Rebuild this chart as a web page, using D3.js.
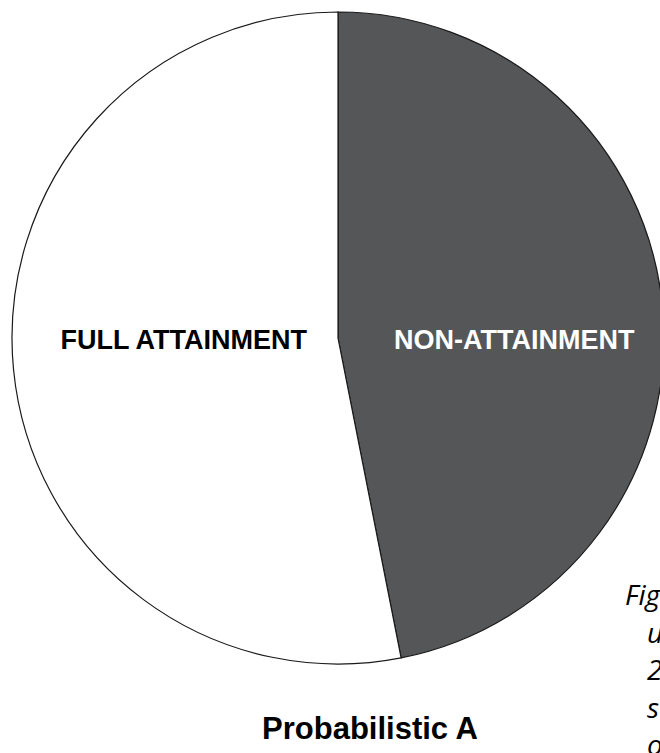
<!DOCTYPE html>
<html>
<head>
<meta charset="utf-8">
<script src="https://cdn.jsdelivr.net/npm/d3@7"></script>
<style>
  html, body { margin: 0; padding: 0; background: #fff; overflow: hidden; }
</style>
</head>
<body>
<svg id="chart"></svg>
<script>
const WIDTH = 660;
const HEIGHT = 753;
const CX = 338;
const CY = 338;
const RADIUS = 326;
const LABEL_R = 166;
const LABEL_SHIFT = 11;

const categories = ["NON-ATTAINMENT", "FULL ATTAINMENT"];
const shares = [46.9, 53.1];
const sliceColors = ["#555658", "#ffffff"];
const labelColors = ["#ffffff", "#000000"];
const title = "Probabilistic A";
const captionLines = ["Figure 4:", "using", "2021", "scenario", "of"];

const data = categories.map((c, i) => ({ label: c, value: shares[i] }));

const svg = d3
  .select("#chart")
  .attr("width", WIDTH)
  .attr("height", HEIGHT);

const pie = d3
  .pie()
  .sort(null)
  .value(d => d.value);

const arc = d3.arc().innerRadius(0).outerRadius(RADIUS);
const labelArc = d3.arc().innerRadius(LABEL_R).outerRadius(LABEL_R);

const chart = svg.append("g").attr("transform", `translate(${CX}, ${CY})`);

const slices = pie(data);

chart
  .selectAll("path")
  .data(slices)
  .enter()
  .append("path")
  .attr("d", arc)
  .attr("fill", (_, i) => sliceColors[i])
  .attr("stroke", "#1a1a1a")
  .attr("stroke-width", 1.2);

// labels sit on the horizontal centre line, x taken from the slice centroid
chart
  .selectAll(".label")
  .data(slices)
  .enter()
  .append("text")
  .attr("class", "label")
  .attr("x", d => labelArc.centroid(d)[0] + LABEL_SHIFT)
  .attr("y", 2)
  .attr("text-anchor", "middle")
  .attr("dominant-baseline", "central")
  .attr("font-family", "Liberation Sans, Arial, sans-serif")
  .attr("font-weight", "bold")
  .attr("font-size", 27)
  .attr("fill", (_, i) => labelColors[i])
  .text(d => d.data.label);

svg
  .append("text")
  .attr("x", 370)
  .attr("y", 739)
  .attr("text-anchor", "middle")
  .attr("font-family", "Liberation Sans, Arial, sans-serif")
  .attr("font-weight", "bold")
  .attr("font-size", 31)
  .text(title);

svg
  .append("g")
  .selectAll("text")
  .data(captionLines)
  .enter()
  .append("text")
  .attr("x", (_, i) => (i === 0 ? 625 : 647))
  .attr("y", (_, i) => 605 + i * 37.5)
  .attr("font-family", "Open Sans, Noto Sans, sans-serif")
  .attr("font-style", "italic")
  .attr("font-size", 28)
  .attr("fill", "#000")
  .text(d => d);
</script>
</body>
</html>
